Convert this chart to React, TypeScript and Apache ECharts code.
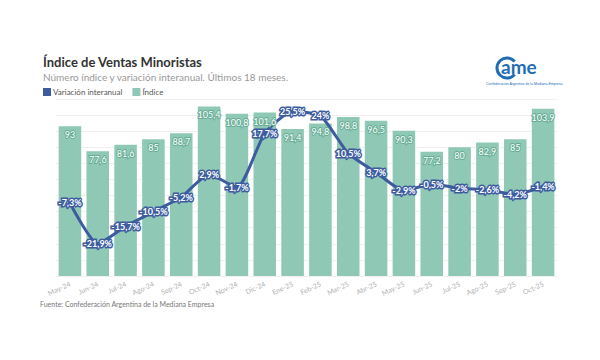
import React, { useEffect, useRef } from "react";
import * as echarts from "echarts";

const months = ["May-24","Jun-24","Jul-24","Ago-24","Sep-24","Oct-24","Nov-24","Dic-24","Ene-25","Feb-25","Mar-25","Abr-25","May-25","Jun-25","Jul-25","Ago-25","Sep-25","Oct-25"];
const indice = [93, 77.6, 81.6, 85, 88.7, 105.4, 100.8, 101.6, 91.4, 94.8, 98.8, 96.5, 90.3, 77.2, 80, 82.9, 85, 103.9];
const variacion = [-7.3, -21.9, -15.7, -10.5, -5.2, 2.9, -1.7, 17.7, 25.5, 24, 10.5, 3.7, -2.9, -0.5, -2, -2.6, -4.2, -1.4];

const BLUE = "#3d5c9f";
const TEAL = "#8fc9b5";
const fmt = (v: number) => String(v).replace(".", ",");

export default function App() {
  const ref = useRef<HTMLDivElement>(null);
  useEffect(() => {
    const chart = echarts.init(ref.current!, null, { renderer: "svg" });
    chart.setOption({
      animation: false,
      backgroundColor: "#ffffff",
      textStyle: { fontFamily: "Lato" },
      title: [
        { text: "Índice de Ventas Minoristas", left: 38, top: 50, textStyle: { fontSize: 13, fontWeight: "bold", color: "#333", fontFamily: "Lato" } },
        { text: "Número índice y variación interanual. Últimos 18 meses.", left: 38, top: 67, textStyle: { fontSize: 10, fontWeight: "normal", color: "#999", fontFamily: "Lato" } },
      ],
      legend: {
        left: 38, top: 83, itemWidth: 8, itemHeight: 8, itemGap: 10,
        textStyle: { fontSize: 8, color: "#555", padding: [0, 0, 0, -3] },
        data: [
          { name: "Variación interanual", icon: "rect", itemStyle: { color: BLUE } },
          { name: "Índice", icon: "rect", itemStyle: { color: TEAL } },
        ],
      },
      grid: { left: 56, right: 43, top: 99, bottom: 84 },
      xAxis: {
        type: "category", data: months,
        axisLine: { show: false }, axisTick: { show: false },
        axisLabel: { rotate: 25, fontSize: 7, color: "#b0b0b0", margin: 7, interval: 0 },
      },
      yAxis: [
        { type: "value", min: 0, max: 110, interval: 10, show: true, axisLabel: { show: false }, axisLine: { show: false }, axisTick: { show: false }, splitLine: { lineStyle: { color: "#f0f0f0" } } },
        { type: "value", min: -33.5, max: 30, show: false, splitLine: { show: false } },
      ],
      series: [
        {
          name: "Índice", type: "bar", data: indice, yAxisIndex: 0, barCategoryGap: "19%", barGap: "-100%",
          itemStyle: { color: TEAL },
          z: 1,
        },
        {
          name: "Variación interanual", type: "line", data: variacion, yAxisIndex: 1, smooth: 0.2,
          symbol: "circle", symbolSize: 4,
          lineStyle: { color: BLUE, width: 3 }, itemStyle: { color: BLUE },
          label: { show: true, position: "inside", fontSize: 9, fontWeight: "bold", color: "#fff", textBorderColor: BLUE, textBorderWidth: 3, formatter: (p: any) => fmt(p.value) + "%" },
          z: 3,
        },
        {
          name: "ÍndiceLabels", type: "bar", data: indice, yAxisIndex: 0, barCategoryGap: "19%", barGap: "-100%",
          itemStyle: { color: "rgba(0,0,0,0)" }, silent: true,
          label: { show: true, position: "insideTop", distance: 4, fontSize: 9, color: "#fff", textBorderColor: "#67ad95", textBorderWidth: 2, overflow: "none", formatter: (p: any) => fmt(p.value) },
          z: 4,
        },
      ],
      graphic: [
        { type: "arc", shape: { cx: 507, cy: 68, r: 10, startAngle: 0.7, endAngle: Math.PI * 2 - 0.7 }, style: { stroke: "#1f6db5", lineWidth: 3, fill: "none" } },
        { type: "text", left: 501, top: 57, style: { text: "ame", fontSize: 19, fontWeight: "bold", fill: "#1f6db5", fontFamily: "Lato" } },
        { type: "text", left: 486, top: 82, style: { text: "Confederación Argentina de la Mediana Empresa", fontSize: 3.5, fill: "#1f6db5" } },
        { type: "text", left: 40, top: 300, style: { text: "Fuente: Confederación Argentina de la Mediana Empresa", fontSize: 7, fill: "#777", fontFamily: "Lato" } },
      ],
    });
    return () => chart.dispose();
  }, []);
  return <div ref={ref} style={{ position: "fixed", left: 0, top: 0, width: 600, height: 360 }} />;
}
